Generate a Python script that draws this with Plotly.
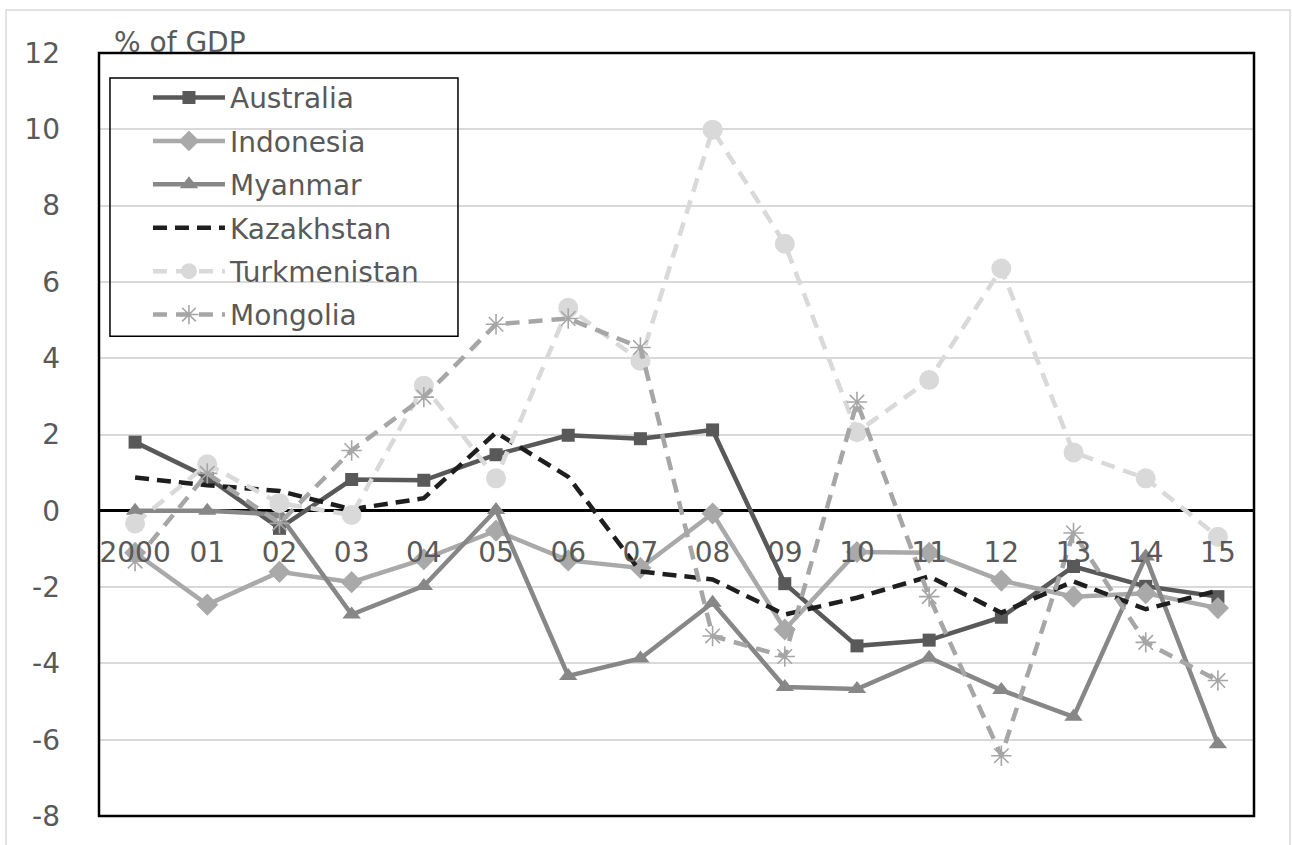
import plotly.graph_objects as go

# Current account balance by country, % of GDP
years = ["2000", "01", "02", "03", "04", "05", "06", "07",
         "08", "09", "10", "11", "12", "13", "14", "15"]

australia = [1.80, 0.88, -0.46, 0.82, 0.80, 1.47, 1.98, 1.89,
             2.12, -1.91, -3.54, -3.39, -2.79, -1.46, -1.98, -2.25]
indonesia = [-1.10, -2.46, -1.60, -1.87, -1.27, -0.52, -1.30, -1.50,
             -0.07, -3.11, -1.08, -1.10, -1.83, -2.25, -2.16, -2.55]
myanmar = [0.00, 0.00, -0.10, -2.72, -1.97, 0.02, -4.33, -3.87,
           -2.41, -4.62, -4.67, -3.85, -4.70, -5.40, -1.20, -6.12]
kazakhstan = [0.87, 0.67, 0.52, 0.04, 0.33, 2.05, 0.89, -1.59,
              -1.80, -2.72, -2.28, -1.72, -2.67, -1.85, -2.58, -2.09]
turkmenistan = [-0.33, 1.22, 0.20, -0.11, 3.28, 0.85, 5.32, 3.93,
                9.99, 7.00, 2.06, 3.43, 6.35, 1.53, 0.85, -0.68]
mongolia = [-1.32, 0.98, -0.33, 1.58, 2.98, 4.89, 5.04, 4.28,
            -3.28, -3.82, 2.85, -2.25, -6.42, -0.58, -3.45, -4.45]

y_ticks = [-8, -6, -4, -2, 0, 2, 4, 6, 8, 10, 12]
y_tick_text = ["-8", "-6", "-4", "-2", "0", "2", "4", "6", "8", "10", "12"]

FONT = "DejaVu Sans"
TEXT = "#595959"
FS = 28

series = [
    dict(name="Australia", y=australia, color="#595959", dash="solid",
         marker=dict(symbol="square", size=13, color="#595959")),
    dict(name="Indonesia", y=indonesia, color="#a9a9a9", dash="solid",
         marker=dict(symbol="diamond", size=17, color="#a9a9a9")),
    dict(name="Myanmar", y=myanmar, color="#878787", dash="solid",
         marker=dict(symbol="triangle-up", size=16, color="#878787")),
    dict(name="Kazakhstan", y=kazakhstan, color="#1e1e1e", dash="14px,8px",
         marker=None),
    dict(name="Turkmenistan", y=turkmenistan, color="#d9d9d9", dash="14px,9px",
         marker=dict(symbol="circle", size=20, color="#d9d9d9")),
    dict(name="Mongolia", y=mongolia, color="#a6a6a6", dash="14px,9px",
         marker=dict(symbol="asterisk-open", size=17, color="#a6a6a6",
                     line=dict(color="#a6a6a6", width=1.6))),
]

fig = go.Figure()
for s in series:
    fig.add_trace(go.Scatter(
        x=years, y=s["y"], name=s["name"], legendgroup=s["name"],
        mode="lines+markers" if s["marker"] else "lines",
        line=dict(color=s["color"], width=4.5, dash=s["dash"]),
        marker=s["marker"] if s["marker"] else None,
    ))

Y_MIN, Y_MAX = -8, 12
ZERO_POS = (0 - Y_MIN) / (Y_MAX - Y_MIN)  # paper position of the y=0 line

fig.update_layout(
    width=1292, height=845,
    margin=dict(l=99, r=38, t=53, b=27),
    paper_bgcolor="white", plot_bgcolor="white",
    font=dict(family=FONT, size=FS, color=TEXT),
    showlegend=True,
    legend=dict(
        x=0.0424, y=0.974, xanchor="left", yanchor="top",
        bgcolor="rgba(0,0,0,0)", borderwidth=0,
        itemwidth=72, tracegroupgap=4, traceorder="grouped",
        font=dict(family=FONT, size=FS, color=TEXT),
    ),
    xaxis=dict(
        type="category", range=[-0.5, len(years) - 0.5],
        anchor="free", position=ZERO_POS,
        showgrid=False, showline=False, zeroline=False,
        ticks="", ticklabelstandoff=22,
        tickfont=dict(family=FONT, size=FS, color=TEXT),
    ),
    yaxis=dict(
        range=[Y_MIN, Y_MAX], tickvals=y_ticks, ticktext=y_tick_text,
        showgrid=True, gridcolor="#d9d9d9", gridwidth=1.5,
        zeroline=True, zerolinecolor="black", zerolinewidth=2.5,
        showline=False, ticks="", ticklabelstandoff=38,
        tickfont=dict(family=FONT, size=FS, color=TEXT),
    ),
    shapes=[
        # plot frame
        dict(type="rect", xref="paper", yref="paper", x0=0, y0=0, x1=1, y1=1,
             line=dict(color="black", width=2.5), layer="above"),
        # legend frame
        dict(type="rect", xref="paper", yref="paper",
             x0=0.0095, x1=0.3108, y0=0.6288, y1=0.9673,
             line=dict(color="black", width=1.5), layer="above"),
        # outer chart border
        dict(type="rect", xref="paper", yref="paper",
             x0=-0.0805, x1=1.0312, y0=-0.06, y1=1.0562,
             line=dict(color="#d9d9d9", width=1.5), layer="above"),
    ],
    annotations=[
        dict(text="% of GDP", xref="paper", yref="paper", x=0.011, y=1.0144,
             xanchor="left", yanchor="middle", showarrow=False,
             font=dict(family=FONT, size=FS, color=TEXT)),
    ],
)

fig.write_html("out.html")
